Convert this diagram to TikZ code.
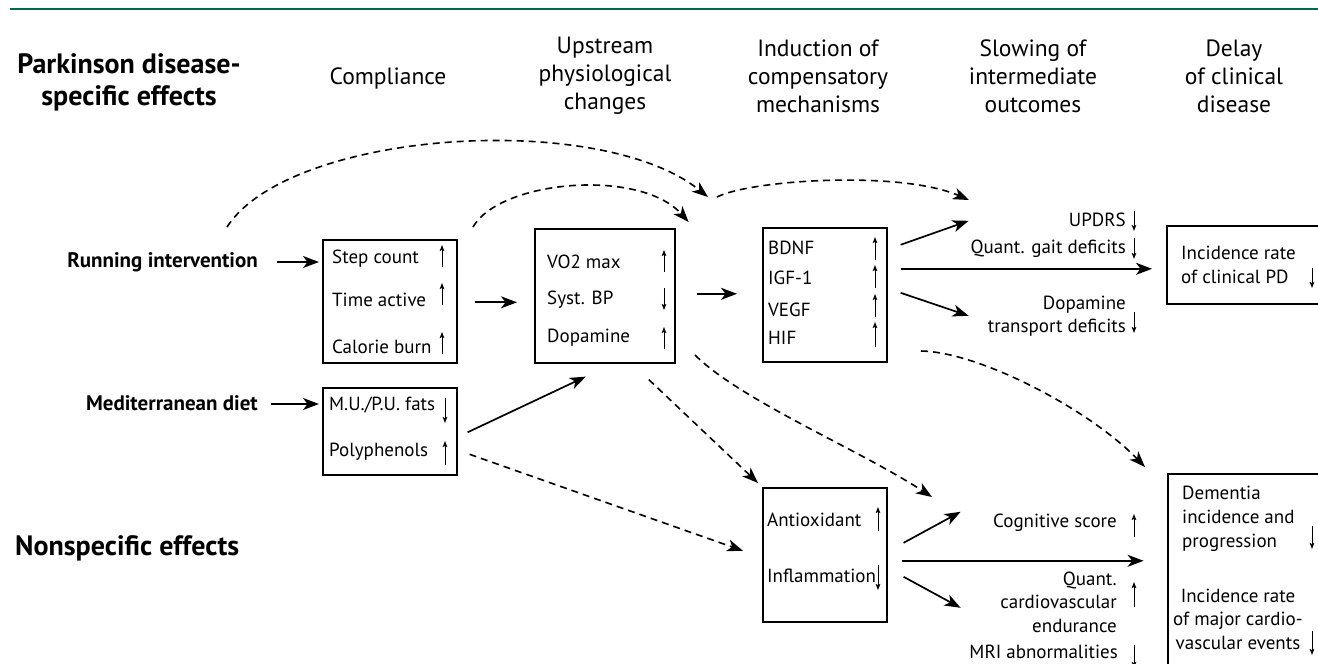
\documentclass[tikz,border=0pt]{standalone}
\usepackage{fontspec}
\setmainfont{PT Sans}
\usetikzlibrary{arrows.meta,calc}
\definecolor{topgreen}{RGB}{0,104,78}
\begin{document}
\begin{tikzpicture}[x=1pt,y=-1pt,
  hdr/.style={align=center, font=\fontsize{23.5}{28}\selectfont, inner sep=0},
  big/.style={align=center, font=\fontsize{28}{32}\selectfont\bfseries, inner sep=0},
  lab/.style={font=\fontsize{21}{24}\selectfont\bfseries, inner sep=0},
  itm/.style={font=\fontsize{19}{24}\selectfont, inner sep=0, anchor=west},
  outr/.style={font=\fontsize{19}{23.5}\selectfont, inner sep=0, anchor=east, align=right},
  boxn/.style={draw, line width=1.6pt, anchor=north west, inner sep=0},
  conn/.style={line width=1.7pt, -{Stealth[length=16pt,width=12pt,inset=4.5pt]}},
  dconn/.style={line width=1.6pt, dash pattern=on 7pt off 5pt, -{Stealth[length=16pt,width=12pt,inset=4.5pt]}},
  ind/.style={line width=1pt, -{Stealth[length=6pt,width=4.5pt,inset=1pt]}},
]
\useasboundingbox (0,0) rectangle (1318,664);
\draw[topgreen, line width=2.5pt] (10,9) -- (1318,9);

% headings
\node[big] (pd) at (129,82) {Parkinson disease-\\specific effects};
\node[big, anchor=west] (ns) at (15,548) {Nonspecific effects};
\node[hdr] (h1) at (388,78) {Compliance};
\node[hdr] (h2) at (605,76) {Upstream\\physiological\\changes};
\node[hdr] (h3) at (818,76) {Induction of\\compensatory\\mechanisms};
\node[hdr] (h4) at (1033,76) {Slowing of\\intermediate\\outcomes};
\node[hdr] (h5) at (1234,76) {Delay\\of clinical\\disease};

% left labels
\node[lab, anchor=east] (ri) at (258,262) {Running intervention};
\node[lab, anchor=east] (md) at (258,403) {Mediterranean diet};

% boxes
\node[boxn, minimum width=134pt, minimum height=123pt] (b1) at (322,239) {};
\node[boxn, minimum width=134pt, minimum height=87pt] (b2) at (322,387) {};
\node[boxn, minimum width=140pt, minimum height=134pt] (b3) at (534,228) {};
\node[boxn, minimum width=124pt, minimum height=134pt] (b4) at (762,227) {};
\node[boxn, minimum width=124pt, minimum height=134pt] (b5) at (762,487) {};
\node[boxn, minimum width=170pt, minimum height=78pt] (b6) at (1166,225) {};
\node[boxn, minimum width=170pt, minimum height=210pt] (b7) at (1167,473) {};

% box 1
\node[itm] (t11) at (332,259) {Step count};
\node[itm] (t12) at (332,300) {Time active};
\node[itm] (t13) at (332,347) {Calorie burn};
\draw[ind] (442,267) -- (442,245);
\draw[ind] (442,305) -- (442,283);
\draw[ind] (442,354) -- (442,332);
% box 2
\node[itm] (t21) at (329,405) {M.U./P.U. fats};
\node[itm] (t22) at (329,452) {Polyphenols};
\draw[ind] (445,398) -- (445,423);
\draw[ind] (445,465) -- (445,441);
% box 3
\node[itm] (t31) at (547,262) {VO2 max};
\node[itm] (t32) at (547,300) {Syst. BP};
\node[itm] (t33) at (547,338) {Dopamine};
\draw[ind] (664,272) -- (664,250);
\draw[ind] (664,288) -- (664,310);
\draw[ind] (664,349) -- (664,327);
% box 4
\node[itm] (t41) at (768,248) {BDNF};
\node[itm] (t42) at (768,278) {IGF-1};
\node[itm] (t43) at (768,310) {VEGF};
\node[itm] (t44) at (768,338) {HIF};
\draw[ind] (875,260) -- (875,237);
\draw[ind] (875,288) -- (875,265);
\draw[ind] (875,317) -- (875,294);
\draw[ind] (875,347) -- (875,322);
% box 5
\node[itm] (t51) at (767,520) {Antioxidant};
\node[itm] (t52) at (767,576) {Inflammation};
\draw[ind] (878,531) -- (878,507);
\draw[ind] (878,565) -- (878,590);
% box 6
\node[itm, align=left] (t61) at (1181,265) {Incidence rate\\of clinical PD};
\draw[ind] (1312,268) -- (1312,288);
% box 7
\node[itm, align=left] (t71) at (1182,519) {Dementia\\incidence and\\progression};
\draw[ind] (1312,526) -- (1312,549);
\node[font=\fontsize{19}{23.5}\selectfont, inner sep=0, align=center] (t72) at (1238,619) {Incidence rate\\of major cardio-\\vascular events};
\draw[ind] (1312,631) -- (1312,655);

% outcomes
\node[outr] (o1) at (1126,220) {UPDRS};
\draw[ind] (1134,211) -- (1134,231);
\node[outr] (o2) at (1126,249) {Quant. gait deficits};
\draw[ind] (1134,238) -- (1134,259);
\node[outr] (o3) at (1126,316) {Dopamine\\transport deficits};
\draw[ind] (1134,312) -- (1134,333);
\node[outr] (o4) at (1117,523) {Cognitive score};
\draw[ind] (1134,537) -- (1134,514);
\node[outr] (o5) at (1117,602) {Quant.\\cardiovascular\\endurance};
\draw[ind] (1134,607) -- (1134,582);
\node[outr] (o6) at (1118,652) {MRI abnormalities};
\draw[ind] (1134,645) -- (1134,668);

% solid connectors
\draw[conn] ($(ri.east)+(19,0)$) -- ($(ri.east -| b1.west)+(-3,0)$);
\draw[conn] ($(md.east)+(13,1)$) -- ($(md.east -| b2.west)+(-3,1)$);
\draw[conn] ($(b1.east)+(17,1)$) -- ($(b1.east -| b3.west)+(-17,1)$);
\draw[conn] ($(b3.east)+(21,-2)$) -- ($(b3.east -| b4.west)+(-25,-2)$);
\draw[conn] ($(b2.east)+(10,1)$) -- ($(b3.south)+(-19,13)$);
\draw[conn] ($(b4.east)+(13,-50)$) -- ($(b4.east)+(81,-74)$);
\draw[conn] ($(b4.east)+(13,-26)$) -- ($(b6.west)+(-14,4)$);
\draw[conn] ($(b4.east)+(13,-2)$) -- ($(b4.east)+(81,21)$);
\draw[conn] ($(b5.east)+(16,-12)$) -- ($(b5.east)+(73,-43)$);
\draw[conn] ($(b5.east)+(14,6)$) -- ($(b5.east)+(256,6)$);
\draw[conn] ($(b5.east)+(16,22)$) -- ($(b5.east)+(73,53)$);

% dashed connectors
\coordinate (d1s) at (227,227);
\coordinate (d1e) at (708,197);
\coordinate (d2s) at (473,227);
\coordinate (d3s) at (717,197);
\coordinate (d3e) at (969,200);
\coordinate (d5s) at (695,355);
\coordinate (d5e) at (932,497);
\coordinate (d7s) at (921,351);
\draw[dconn] (d1s) .. controls (290,130) and (600,110) .. (d1e);
\draw[dconn] (d2s) .. controls (500,180) and (640,168) .. ($(b3.north east)+(13,-6)$);
\draw[dconn] (d3s) .. controls (750,180) and (900,170) .. (d3e);
\draw[dconn] ($(b3.south)+(44,16)$) -- ($(b5.north west)+(-4,-4)$);
\draw[dconn] (d5s) .. controls (740,400) and (860,450) .. (d5e);
\draw[dconn] ($(b2.east)+(12,23)$) -- ($(b5.west)+(-19,-4)$);
\draw[dconn] (d7s) .. controls (980,352) and (1090,410) .. ($(b7.north west)+(-22,-6)$);
\end{tikzpicture}
\end{document}
